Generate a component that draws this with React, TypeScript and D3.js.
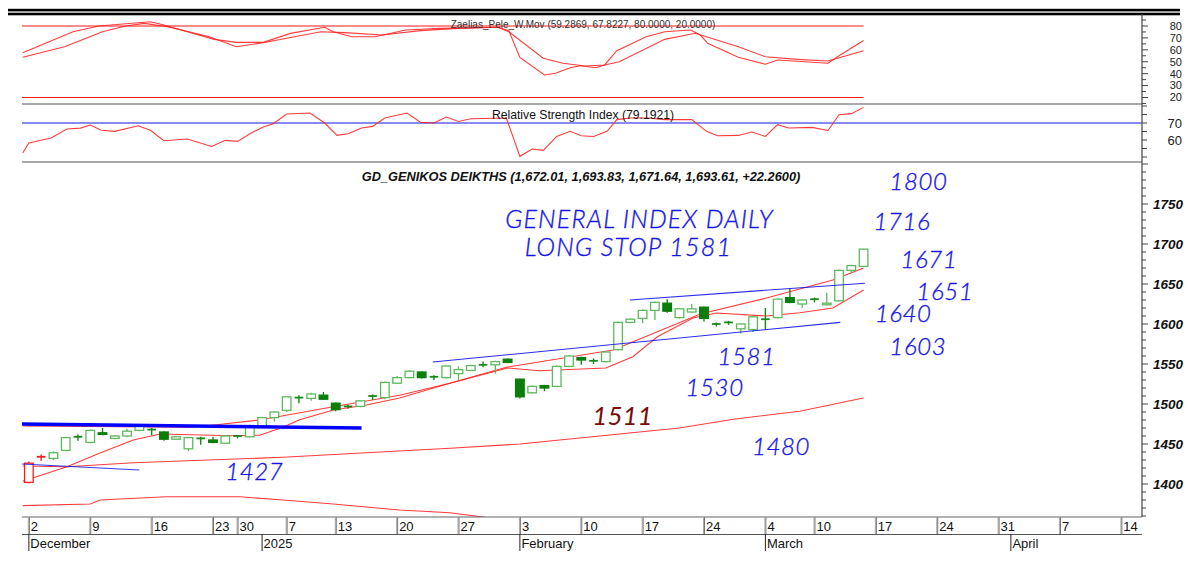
import React from "react";
import * as d3 from "d3";

// x axis: trading-day index -> weekly tick labels and month starts
const tickDays = [0, 5, 10, 15, 17, 21, 25, 30, 35, 40, 45, 50, 55, 60, 64, 69, 74, 79, 84, 89];
const tickLabels = ["2", "9", "16", "23", "30", "7", "13", "20", "27", "3", "10", "17", "24", "4", "10", "17", "24", "31", "7", "14"];
const monthDays = [0, 19, 40, 60, 80];
const monthLabels = ["December", "2025", "February", "March", "April"];

// daily candles, Dec 2 2024 .. Mar 14 2025
const open = [
  1402, 1433, 1432, 1442, 1458, 1452, 1464, 1457, 1460, 1467,
  1467, 1465, 1456, 1444, 1456, 1455, 1451, 1459, 1459, 1472,
  1483, 1492, 1507, 1507, 1511, 1501, 1496, 1497, 1509, 1508,
  1526, 1533, 1540, 1533, 1533, 1538, 1542, 1548, 1549, 1556,
  1531, 1514, 1523, 1522, 1547, 1558, 1553, 1553, 1568, 1602,
  1607, 1617, 1626, 1608, 1615, 1621, 1599, 1601, 1594, 1593,
  1605, 1608, 1633, 1625, 1630, 1624, 1629, 1667, 1672.01,
];
const close = [
  1426, 1434, 1439, 1458, 1459, 1467, 1462, 1460, 1466, 1472,
  1468, 1456, 1459, 1458, 1457, 1452, 1460, 1460, 1473, 1483,
  1490, 1509, 1508, 1512.5, 1506, 1493, 1497, 1504, 1510, 1527,
  1533, 1541, 1533, 1534, 1547.5, 1543, 1548, 1549, 1553, 1552,
  1509, 1522, 1520, 1547, 1560, 1555, 1554, 1565, 1602, 1606,
  1617, 1627, 1616, 1619, 1619, 1607, 1600, 1602, 1600, 1609,
  1606, 1631, 1627, 1630, 1631, 1626, 1667, 1673, 1693.61,
];
const high = [
  1428, 1437, 1441, 1459, 1462, 1468, 1470, 1461, 1469, 1474,
  1470, 1466, 1460, 1459, 1459, 1459, 1461, 1461, 1474, 1484,
  1491, 1510, 1511, 1514, 1515, 1502, 1499, 1505, 1512, 1528,
  1535, 1542, 1541, 1536, 1548, 1547, 1549, 1553, 1554, 1557,
  1532, 1523, 1524, 1548, 1561, 1559, 1557, 1566, 1603, 1607,
  1618, 1628, 1631, 1620, 1625, 1622, 1602, 1604, 1601, 1610,
  1620, 1632, 1644, 1631, 1633, 1639, 1668, 1674, 1693.83,
];
const low = [
  1401, 1429, 1430, 1441, 1454, 1451, 1461, 1456, 1459, 1466,
  1461, 1454, 1455, 1441, 1449, 1451, 1450, 1457, 1458, 1471,
  1478, 1490, 1501, 1504, 1505, 1491, 1494, 1496, 1505, 1506,
  1525, 1532, 1532, 1530, 1532, 1530, 1541, 1546, 1538, 1551,
  1507, 1513, 1516, 1521, 1546, 1549, 1550, 1552, 1567, 1601,
  1601, 1605, 1614, 1607, 1614, 1603, 1597, 1599, 1588, 1590,
  1593, 1607, 1626, 1620, 1627, 1623, 1628, 1663, 1671.64,
];

// moving averages: [day index, value]
const maFast = [
  [-0.5, 1403.5], [3.1, 1421.6], [5.8, 1438.8], [8.5, 1455], [10.7, 1462.5], [16.6, 1460.4],
  [18.8, 1461], [20.7, 1471], [22, 1480], [24.8, 1492.5], [27.5, 1498.8], [30.2, 1507.5],
  [34.3, 1526], [39, 1545], [41.6, 1541.6], [47, 1545], [49.2, 1559], [51.2, 1584],
  [54.1, 1607.5], [56, 1613.8], [60.1, 1610], [62.8, 1614], [65.5, 1620], [68, 1642.5],
];
const maSlow = [
  [-0.5, 1472.5], [13.1, 1471], [15.3, 1474], [18.8, 1480], [24.8, 1496.5], [30.2, 1511],
  [34.3, 1526], [38.9, 1546], [47.6, 1567.5], [54.7, 1612.5], [60.1, 1632.5], [65.5, 1655], [68, 1670],
];
const maLong = [
  [-0.5, 1422.5], [3.1, 1421.6], [8.5, 1426.5], [20.7, 1433.4], [34.3, 1444.6], [40, 1450],
  [46.5, 1460], [53, 1470], [57.4, 1481], [62.8, 1491], [66.9, 1504], [68, 1507.5],
];
const envLow = [
  [-0.5, 1373], [5, 1375], [5.8, 1380], [11.2, 1384], [17.2, 1384], [20.7, 1380],
  [24.8, 1375], [30.2, 1367.5], [34.3, 1364], [37.6, 1357.5], [41.6, 1352],
];

// drawn trend lines
const thickLine = [[-0.56, 1475], [27.1, 1470]];
const shortLine = [[-0.56, 1425], [9, 1417.5]];
const supportLine = [[32.9, 1552.5], [66.1, 1602]];
const resistLine = [[48.96, 1630], [68.1, 1651]];

// Zaelias_Pele W.Mov oscillator
const wmovFast = [
  [-0.5, 57.6], [3.6, 75.2], [5.7, 80], [9.9, 83.6], [11, 80.8], [15.1, 68.8], [16.9, 66.3],
  [19.1, 66.3], [21.3, 73.8], [24.1, 78.9], [24.8, 75.2], [26.3, 71], [28.2, 71], [30.7, 76.6],
  [33.5, 78], [38.2, 78.9], [39.1, 76], [40, 53.7], [42, 38.9], [42.9, 40.3], [44.1, 45],
  [44.9, 46.7], [46.2, 45], [46.9, 47.3], [47.9, 59.3], [50.3, 71], [51.8, 75.2], [53.9, 76.6],
  [54.7, 72.4], [55.3, 65.5], [57.8, 53.7], [60, 47.9], [61, 51.5], [65.1, 48.7], [66.1, 55.7],
  [68, 67.82],
];
const wmovSlow = [
  [-0.5, 53.7], [2.9, 62.6], [6, 75.2], [7.9, 80], [9.4, 82.2], [11.3, 79.4], [14.7, 71],
  [16.9, 62.6], [19.1, 66], [21, 69.7], [23.8, 75.2], [25.7, 74.4], [28.8, 72.4], [31.9, 76.1],
  [35, 78], [38.2, 78.9], [39.1, 75.2], [41.9, 52.9], [43.5, 48.7], [45.3, 46.4], [46.9, 47.3],
  [48.1, 50], [51.8, 68.8], [54.3, 73.9], [57.8, 62.6], [60, 54.2], [62.6, 52], [65.1, 50.6],
  [68, 59.29],
];

// Relative Strength Index
const rsi = [
  [-0.5, 52.4], [0, 58.2], [1.8, 61.2], [3.1, 66.5], [4.2, 67], [5, 68.8], [5.9, 65.7], [7, 65.1],
  [8.9, 68.4], [9.9, 65.7], [11, 59.6], [12.9, 60.6], [14.9, 56.2], [16, 59.8], [17, 59.2],
  [18.1, 64.1], [19.1, 67.6], [19.9, 69.6], [21, 75.3], [22.9, 75.9], [24.1, 70], [25.1, 62.7],
  [26, 63.7], [27.1, 67.1], [28, 68], [29, 72.9], [30.8, 75.9], [31.9, 70.4], [33, 70],
  [34, 73.5], [35, 70.9], [36, 72.5], [38.9, 72.9], [40, 50.4], [41, 54.7], [41.9, 53.9],
  [43, 62.1], [44.1, 65.1], [45, 62.5], [46, 62.1], [47.1, 65.1], [47.9, 72], [49, 72.9],
  [50.4, 72.9], [51.8, 72], [54, 72], [55.2, 65.1], [56.1, 62.5], [57.8, 62.7], [58.9, 64.7],
  [60, 62.1], [61, 69], [61.9, 67.1], [63.8, 67.4], [65.1, 65.6], [66, 74.9], [67, 75.5],
  [68, 79.19],
];

// hand-written notes: [text, day index, price]
const blueNotes: [string, number, number][] = [
  ["GENERAL INDEX DAILY", 38.8, 1720],
  ["LONG STOP 1581", 40.4, 1685],
  ["1800", 70.1, 1767.5],
  ["1716", 68.8, 1717.5],
  ["1671", 71, 1670],
  ["1651", 72.3, 1630],
  ["1640", 68.9, 1602.5],
  ["1603", 70.1, 1561],
  ["1581", 56.1, 1548.8],
  ["1530", 53.5, 1510],
  ["1480", 58.9, 1436],
  ["1427", 16, 1405],
];
const redNotes: [string, number, number][] = [["1511", 45.9, 1473.8]];

const RED = "#ff1a1a";
const BLUE = "#1515e8";
const UP = "#5fb85f";
const DOWN = "#0a7d0a";
const DOJI = "#148a14";
const FONT = "'Liberation Sans', Arial, sans-serif";
const HAND = "Lato, 'Open Sans', 'Liberation Sans', sans-serif";

export default function App() {
  const x = d3.scaleLinear().domain([-0.56, 90.6]).range([22, 1141]);
  const yP = d3.scaleLinear().domain([1400, 1750]).range([484, 204]);
  const yO = d3.scaleLinear().domain([20, 80]).range([97.5, 26]);
  const yR = d3.scaleLinear().domain([60, 70]).range([140, 123]);

  const lineP = d3.line<number[]>().x((d) => x(d[0])).y((d) => yP(d[1]));
  const lineO = d3.line<number[]>().x((d) => x(d[0])).y((d) => yO(d[1]));
  const lineR = d3.line<number[]>().x((d) => x(d[0])).y((d) => yR(d[1]));

  const axisX = 1142;
  const bw = 8.6;
  const lastX = x(open.length - 1);

  return (
    <svg
      width={1188}
      height={567}
      style={{ position: "absolute", left: 0, top: 0, background: "#fff" }}
      fontFamily={FONT}
    >
      <defs>
        <clipPath id="clipTop">
          <rect x={22} y={14} width={axisX - 22} height={90} />
        </clipPath>
        <clipPath id="clipRsi">
          <rect x={22} y={104} width={axisX - 22} height={58} />
        </clipPath>
        <clipPath id="clipMain">
          <rect x={22} y={162} width={axisX - 22} height={355} />
        </clipPath>
      </defs>

      {/* header bars */}
      <rect x={8} y={8.8} width={1172} height={2.6} fill="#000" />
      <rect x={8} y={12.7} width={1172} height={2.6} fill="#000" />

      {/* ---------- W.Mov panel ---------- */}
      <g clipPath="url(#clipTop)">
        <line x1={22} x2={lastX} y1={yO(80)} y2={yO(80)} stroke={RED} strokeWidth={1.2} />
        <line x1={22} x2={lastX} y1={yO(20)} y2={yO(20)} stroke={RED} strokeWidth={1.2} />
        <path d={lineO(wmovSlow) || ""} fill="none" stroke={RED} strokeOpacity={0.85} strokeWidth={1.1} />
        <path d={lineO(wmovFast) || ""} fill="none" stroke={RED} strokeOpacity={0.85} strokeWidth={1.1} />
      </g>
      <text x={583} y={27.5} fontSize={10} textAnchor="middle" fill="#333">
        Zaelias_Pele_W.Mov (59.2869, 67.8227, 80.0000, 20.0000)
      </text>
      {d3.range(15, 90, 5).map((v) => (
        <line key={"ot" + v} x1={axisX} x2={axisX + (v % 10 === 0 ? 6 : 4)} y1={yO(v)} y2={yO(v)} stroke="#444" />
      ))}
      {d3.range(20, 81, 10).map((v) => (
        <text key={"ol" + v} x={1182} y={yO(v)} dy="0.35em" fontSize={11} textAnchor="end" fill="#222">
          {v}
        </text>
      ))}
      <line x1={22} x2={axisX} y1={104} y2={104} stroke="#555" strokeWidth={1.2} />

      {/* ---------- RSI panel ---------- */}
      <line x1={22} x2={axisX} y1={yR(70)} y2={yR(70)} stroke={BLUE} strokeWidth={1} />
      <g clipPath="url(#clipRsi)">
        <path d={lineR(rsi) || ""} fill="none" stroke={RED} strokeOpacity={0.85} strokeWidth={1.1} />
      </g>
      <text x={583} y={119} fontSize={12.2} textAnchor="middle" fill="#111">
        Relative Strength Index (79.1921)
      </text>
      {d3.range(50, 82, 5).map((v) => (
        <line key={"rt" + v} x1={axisX} x2={axisX + 5} y1={yR(v)} y2={yR(v)} stroke="#444" />
      ))}
      {[60, 70].map((v) => (
        <text key={"rl" + v} x={1182} y={yR(v)} dy="0.35em" fontSize={13} textAnchor="end" fill="#222">
          {v}
        </text>
      ))}
      <line x1={22} x2={axisX} y1={162} y2={162} stroke="#555" strokeWidth={1.2} />

      {/* ---------- price panel ---------- */}
      <text x={581} y={180.5} fontSize={12.8} fontWeight="bold" fontStyle="italic" textAnchor="middle" fill="#111">
        GD_GENIKOS DEIKTHS (1,672.01, 1,693.83, 1,671.64, 1,693.61, +22.2600)
      </text>
      <g clipPath="url(#clipMain)">
        <path d={lineP(envLow) || ""} fill="none" stroke={RED} strokeOpacity={0.85} strokeWidth={1.1} />
        <path d={lineP(maLong) || ""} fill="none" stroke={RED} strokeOpacity={0.85} strokeWidth={1.1} />
        <path d={lineP(maSlow) || ""} fill="none" stroke={RED} strokeOpacity={0.85} strokeWidth={1.1} />
        <path d={lineP(maFast) || ""} fill="none" stroke={RED} strokeOpacity={0.85} strokeWidth={1.1} />

        {open.map((o, i) => {
          const c = close[i];
          const cx = x(i);
          const doji = Math.abs(c - o) < 1.6;
          const up = c >= o;
          const first = i < 2;
          if (doji) {
            const col = first ? RED : DOJI;
            return (
              <g key={"c" + i}>
                <line x1={cx} x2={cx} y1={yP(high[i])} y2={yP(low[i])} stroke={col} strokeWidth={1.4} />
                <line x1={cx - bw / 2} x2={cx + bw / 2} y1={yP(c)} y2={yP(c)} stroke={col} strokeWidth={1.8} />
              </g>
            );
          }
          const top = yP(Math.max(o, c));
          const bot = yP(Math.min(o, c));
          const col = first ? RED : up ? UP : DOWN;
          return (
            <g key={"c" + i}>
              <line x1={cx} x2={cx} y1={yP(high[i])} y2={top} stroke={col} strokeWidth={1.3} />
              <line x1={cx} x2={cx} y1={bot} y2={yP(low[i])} stroke={col} strokeWidth={1.3} />
              <rect
                x={cx - bw / 2}
                y={top}
                width={bw}
                height={Math.max(bot - top, 1.5)}
                fill={up ? "#fff" : col}
                stroke={col}
                strokeWidth={1.3}
              />
            </g>
          );
        })}

        <path d={lineP(thickLine) || ""} stroke="#0000ff" strokeWidth={3.6} fill="none" />
        <path d={lineP(shortLine) || ""} stroke={BLUE} strokeWidth={1} strokeOpacity={0.85} fill="none" />
        <path d={lineP(supportLine) || ""} stroke={BLUE} strokeWidth={1.1} strokeOpacity={0.9} fill="none" />
        <path d={lineP(resistLine) || ""} stroke={BLUE} strokeWidth={1.1} strokeOpacity={0.9} fill="none" />

        {blueNotes.map(([t, d, v]) => {
          const long = t.length > 6;
          return (
            <text
              key={"n" + t + d}
              x={x(d)}
              y={yP(v)}
              fontFamily={HAND}
              fontSize={long ? 25 : 24}
              fontWeight={300}
              fontStyle="italic"
              letterSpacing={long ? 1.2 : 0.6}
              fill={BLUE}
              stroke={BLUE}
              strokeWidth={0.35}
            >
              {t}
            </text>
          );
        })}
        {redNotes.map(([t, d, v]) => (
          <text key={"r" + t} x={x(d)} y={yP(v)} fontFamily={HAND} fontSize={26} fontStyle="italic" fill="#7a0c0c">
            {t}
          </text>
        ))}
      </g>

      {/* right price axis */}
      <line x1={axisX} x2={axisX} y1={14} y2={517} stroke="#444" strokeWidth={1.2} />
      {d3.range(1360, 1801, 10).map((v) => (
        <line key={"pt" + v} x1={axisX} x2={axisX + (v % 50 === 0 ? 6 : 4)} y1={yP(v)} y2={yP(v)} stroke="#444" />
      ))}
      {d3.range(1400, 1751, 50).map((v) => (
        <text
          key={"pl" + v}
          x={1183}
          y={yP(v)}
          dy="0.36em"
          fontSize={13.5}
          fontWeight="bold"
          fontStyle="italic"
          textAnchor="end"
          fill="#111"
        >
          {v}
        </text>
      ))}

      {/* ---------- date rows ---------- */}
      <line x1={22} x2={axisX} y1={517} y2={517} stroke="#666" strokeWidth={1.2} />
      <line x1={22} x2={axisX} y1={534.5} y2={534.5} stroke="#555" strokeWidth={1} />
      {tickDays.map((d, k) => (
        <g key={"dt" + k}>
          <line x1={x(d) - 0.5} x2={x(d) - 0.5} y1={517} y2={534} stroke="#aaa" strokeWidth={1} />
          <line x1={x(d) + 0.5} x2={x(d) + 0.5} y1={517} y2={534} stroke="#777" strokeWidth={1} />
          <text x={x(d) + 2} y={531} fontSize={13} fill="#111">
            {tickLabels[k]}
          </text>
        </g>
      ))}
      {monthDays.map((d, k) => (
        <g key={"mt" + k}>
          <line x1={x(d)} x2={x(d)} y1={534} y2={551} stroke="#222" strokeWidth={1} />
          <text x={x(d) + 1.5} y={548} fontSize={13} fill="#111">
            {monthLabels[k]}
          </text>
        </g>
      ))}
    </svg>
  );
}
